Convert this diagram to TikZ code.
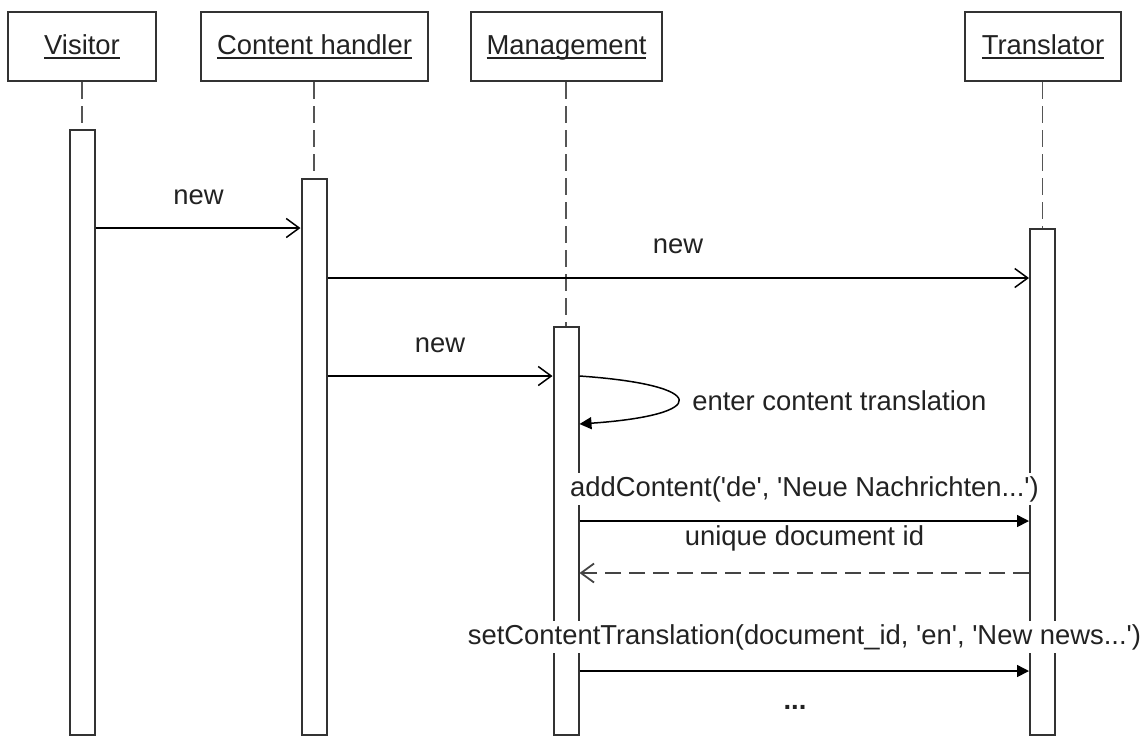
\documentclass[tikz,border=0pt]{standalone}
\usepackage{fontspec}
\setmainfont{Liberation Sans}
\usetikzlibrary{arrows.meta,calc}
\definecolor{txt}{HTML}{222222}
\definecolor{boxc}{HTML}{333333}
\definecolor{barc}{HTML}{333333}
\definecolor{lifec}{HTML}{555555}
\definecolor{retc}{HTML}{444444}
\newsavebox\ulbox
\newcommand\myul[1]{\sbox\ulbox{#1}\rlap{\color{txt}\rule[-2.6pt]{\wd\ulbox}{1pt}}\usebox\ulbox}
\newcommand\sq{\textquotesingle}
\begin{document}
\begin{tikzpicture}[x=0.5pt,y=-0.5pt,
  every node/.style={font=\fontsize{13.7pt}{16pt}\selectfont, text=txt},
  actor/.style={draw=boxc, line width=1.2pt, fill=white, minimum height=34.5pt, inner sep=0pt},
  bar/.style={draw=barc, line width=1pt, fill=white, minimum width=12.5pt, inner sep=0pt},
  lifeline/.style={draw=lifec, line width=0.9pt, dash pattern=on 8.5pt off 3.5pt},
  call/.style={draw=black, line width=0.75pt, -{Straight Barb[length=6.5pt,width=9.5pt]}},
  sync/.style={draw=black, line width=0.75pt, -{Triangle[length=6pt,width=6pt]}},
  reply/.style={draw=retc, line width=0.9pt, dash pattern=on 8pt off 4pt, -{Straight Barb[length=6.5pt,width=9.5pt]}},
  lbl/.style={anchor=base, inner sep=0pt},
  mlbl/.style={anchor=base, inner xsep=0pt, inner ysep=1.5pt, fill=white}]
\useasboundingbox (0,0) rectangle (1145,736);
% actors
\node[actor, minimum width=74pt] (vis) at (82,46.5) {};
\node[actor, minimum width=113.5pt] (con) at (314.5,46.5) {};
\node[actor, minimum width=95.5pt] (man) at (566.5,46.5) {};
\node[actor, minimum width=78pt] (tra) at (1043,46.5) {};
\node[lbl] (vist) at (82,54) {\myul{Visitor}};
\node[lbl] (cont) at (314.5,54) {\myul{Content handler}};
\node[lbl] (mant) at (566.5,54) {\myul{Management}};
\node[lbl] (trat) at (1043,54) {\myul{Translator}};
% activation bars
\node[bar, minimum height=302.5pt] (vbar) at (82,432.5) {};
\node[bar, minimum height=278pt] (cbar) at (314,457) {};
\node[bar, minimum height=204pt] (mbar) at (566,531) {};
\node[bar, minimum height=253pt] (tbar) at (1042.5,482) {};
% lifelines
\draw[lifeline] (vbar.north |- vis.south) -- (vbar.north);
\draw[lifeline] (cbar.north |- con.south) -- (cbar.north);
\draw[lifeline] (mbar.north |- man.south) -- (mbar.north);
\draw[lifeline] (tbar.north |- tra.south) -- (tbar.north);
% message levels
\coordinate (y1) at (0,228);
\coordinate (y2) at (0,278);
\coordinate (y3) at (0,376);
\coordinate (y4) at (0,424);
\coordinate (y5) at (0,521);
\coordinate (y6) at (0,573);
\coordinate (y7) at (0,671);
% messages
\draw[call] (vbar.east |- y1) -- (cbar.west |- y1);
\node[mlbl] (l1) at (198.5,204) {new};
\draw[call] (cbar.east |- y2) -- (tbar.west |- y2);
\node[mlbl] (l2) at (678,253) {new};
\draw[call] (cbar.east |- y3) -- (mbar.west |- y3);
\node[mlbl] (l3) at (440,352) {new};
\draw[sync] (mbar.east |- y3) .. controls +(131,9) and +(131,-9) .. (mbar.east |- y4);
\node[mlbl, anchor=base west] (l4) at (692,410) {enter content translation};
\draw[sync] (mbar.east |- y5) -- (tbar.west |- y5);
\node[mlbl] (l5) at (804.5,496) {addContent(\sq de\sq, \sq Neue Nachrichten...\sq)};
\draw[reply] (tbar.west |- y6) -- (mbar.east |- y6);
\node[mlbl] (l6) at (804.5,545) {unique document id};
\draw[sync] (mbar.east |- y7) -- (tbar.west |- y7);
\node[mlbl] (l7) at (804.5,644) {setContentTranslation(document\_id, \sq en\sq, \sq New news...\sq)};
\node[mlbl] (l8) at (795,709) {\textbf{...}};
\end{tikzpicture}
\end{document}
